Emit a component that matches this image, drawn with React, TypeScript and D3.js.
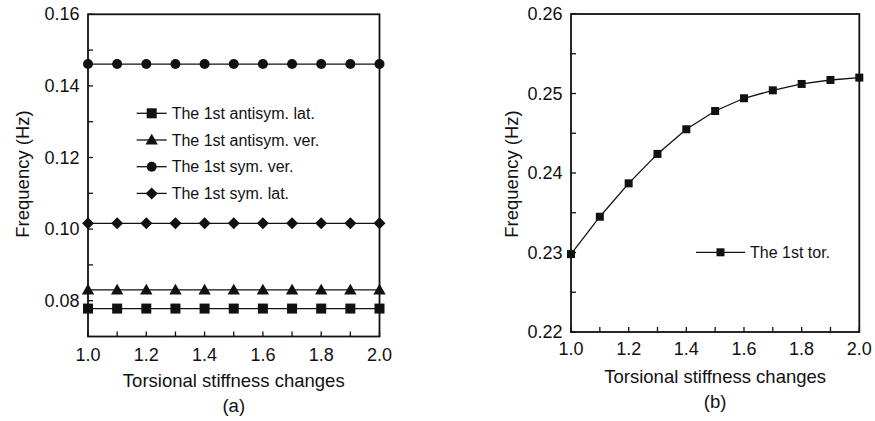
import React from "react";
import * as d3 from "d3";

const xValues = [1.0, 1.1, 1.2, 1.3, 1.4, 1.5, 1.6, 1.7, 1.8, 1.9, 2.0];
const antisymLat = [0.0778, 0.0778, 0.0778, 0.0778, 0.0778, 0.0778, 0.0778, 0.0778, 0.0778, 0.0778, 0.0778];
const antisymVer = [0.083, 0.083, 0.083, 0.083, 0.083, 0.083, 0.083, 0.083, 0.083, 0.083, 0.083];
const symVer = [0.1461, 0.1461, 0.1461, 0.1461, 0.1461, 0.1461, 0.1461, 0.1461, 0.1461, 0.1461, 0.1461];
const symLat = [0.1016, 0.1016, 0.1016, 0.1016, 0.1016, 0.1016, 0.1016, 0.1016, 0.1016, 0.1016, 0.1016];
const torsion = [0.2298, 0.2345, 0.2387, 0.2424, 0.2455, 0.2478, 0.2494, 0.2504, 0.2512, 0.2517, 0.252];

const xTickLabels = [1.0, 1.2, 1.4, 1.6, 1.8, 2.0];
const xTickAll = [1.0, 1.1, 1.2, 1.3, 1.4, 1.5, 1.6, 1.7, 1.8, 1.9, 2.0];
const yTicksA = [0.08, 0.1, 0.12, 0.14, 0.16];
const yMinorA = [0.09, 0.11, 0.13, 0.15];
const yTicksB = [0.22, 0.23, 0.24, 0.25, 0.26];
const yMinorB = [0.225, 0.235, 0.245, 0.255];

const legendA = ["The 1st antisym. lat.", "The 1st antisym. ver.", "The 1st sym. ver.", "The 1st sym. lat."];
const legendB = ["The 1st tor."];

const FONT = "Liberation Sans, Arial, sans-serif";
const INK = "#111";

type Shape = "square" | "triangle" | "circle" | "diamond";

function Marker({ shape, x, y, s }: { shape: Shape; x: number; y: number; s: number }) {
  if (shape === "square") return <rect x={x - s / 2} y={y - s / 2} width={s} height={s} fill={INK} />;
  if (shape === "circle") return <circle cx={x} cy={y} r={s / 2} fill={INK} />;
  if (shape === "triangle") {
    const h = s * 1.0;
    return <path d={`M${x},${y - h * 0.62}L${x + s * 0.62},${y + h * 0.45}L${x - s * 0.62},${y + h * 0.45}Z`} fill={INK} />;
  }
  const r = s * 0.6;
  return <path d={`M${x},${y - r}L${x + r},${y}L${x},${y + r}L${x - r},${y}Z`} fill={INK} />;
}

function Panel({
  x0, x1, y0, y1, yDomain, yTicks, yMinor, series, shapes, markerSize, legend, legendPos, legendStep, caption, yFmt,
  xLabelDy, titleDy, captionDy, yTitleX,
}: any) {
  const x = d3.scaleLinear().domain([1, 2]).range([x0, x1]);
  const y = d3.scaleLinear().domain(yDomain).range([y1, y0]);
  const line = d3.line<number>().x((_, i) => x(xValues[i])).y((d) => y(d));
  const cx = (x0 + x1) / 2;
  return (
    <g>
      {series.map((s: number[], k: number) => (
        <g key={k}>
          <path d={line(s) || ""} fill="none" stroke={INK} strokeWidth={1.3} />
          {s.map((v, i) => (
            <Marker key={i} shape={shapes[k]} x={x(xValues[i])} y={y(v)} s={markerSize} />
          ))}
        </g>
      ))}
      <rect x={x0} y={y0} width={x1 - x0} height={y1 - y0} fill="none" stroke={INK} strokeWidth={1.8} />
      {xTickAll.map((t) => (
        <line key={"xt" + t} x1={x(t)} x2={x(t)} y1={y1} y2={y1 - 5} stroke={INK} strokeWidth={1.3} />
      ))}
      {[...yTicks, ...yMinor].map((t: number) => (
        <line key={"yt" + t} x1={x0} x2={x0 + 5} y1={y(t)} y2={y(t)} stroke={INK} strokeWidth={1.3} />
      ))}
      {xTickLabels.map((t) => (
        <text key={"xl" + t} x={x(t)} y={y1 + xLabelDy} textAnchor="middle" dominantBaseline="central" fontSize={18} fontFamily={FONT} fill={INK}>
          {d3.format(".1f")(t)}
        </text>
      ))}
      {yTicks.map((t: number) => (
        <text key={"yl" + t} x={x0 - 8.5} y={y(t)} textAnchor="end" dominantBaseline="central" fontSize={18} fontFamily={FONT} fill={INK}>
          {yFmt(t)}
        </text>
      ))}
      <text x={cx} y={y1 + titleDy} textAnchor="middle" dominantBaseline="central" fontSize={18.5} fontFamily={FONT} fill={INK}>
        Torsional stiffness changes
      </text>
      <text x={cx} y={y1 + captionDy} textAnchor="middle" dominantBaseline="central" fontSize={18.5} fontFamily={FONT} fill={INK}>
        {caption}
      </text>
      <text
        transform={`translate(${yTitleX},174) rotate(-90)`}
        textAnchor="middle"
        dominantBaseline="central"
        fontSize={18.5}
        fontFamily={FONT}
        fill={INK}
      >
        Frequency (Hz)
      </text>
      {legend.map((name: string, k: number) => {
        const ly = legendPos[1] + k * legendStep;
        const lx = legendPos[0];
        const lw = legendPos[2];
        return (
          <g key={"lg" + k}>
            <line x1={lx} x2={lx + lw} y1={ly} y2={ly} stroke={INK} strokeWidth={1.3} />
            <Marker shape={shapes[k]} x={lx + lw / 2} y={ly} s={markerSize} />
            <text x={lx + lw + 5} y={ly} dominantBaseline="central" fontSize={16} fontFamily={FONT} fill={INK}>
              {name}
            </text>
          </g>
        );
      })}
    </g>
  );
}

export default function App() {
  return (
    <svg width={875} height={421} style={{ position: "absolute", left: 0, top: 0, background: "#fff" }}>
      <rect width={875} height={421} fill="#fff" />
      <Panel
        x0={88}
        x1={379.5}
        y0={14.3}
        y1={336.5}
        yDomain={[0.07, 0.16]}
        yTicks={yTicksA}
        yMinor={yMinorA}
        series={[antisymLat, antisymVer, symVer, symLat]}
        shapes={["square", "triangle", "circle", "diamond"]}
        markerSize={10}
        legend={legendA}
        legendPos={[136.7, 113.3, 30]}
        legendStep={26.7}
        caption="(a)"
        yFmt={d3.format(".2f")}
        xLabelDy={18.5}
        titleDy={43.5}
        captionDy={68.5}
        yTitleX={22}
      />
      <Panel
        x0={571}
        x1={859.3}
        y0={14}
        y1={332}
        yDomain={[0.22, 0.26]}
        yTicks={yTicksB}
        yMinor={yMinorB}
        series={[torsion]}
        shapes={["square"]}
        markerSize={8}
        legend={legendB}
        legendPos={[696, 252.3, 49]}
        legendStep={0}
        caption="(b)"
        yFmt={d3.format(".2f")}
        xLabelDy={16.5}
        titleDy={44.7}
        captionDy={69.7}
        yTitleX={511.5}
      />
    </svg>
  );
}
